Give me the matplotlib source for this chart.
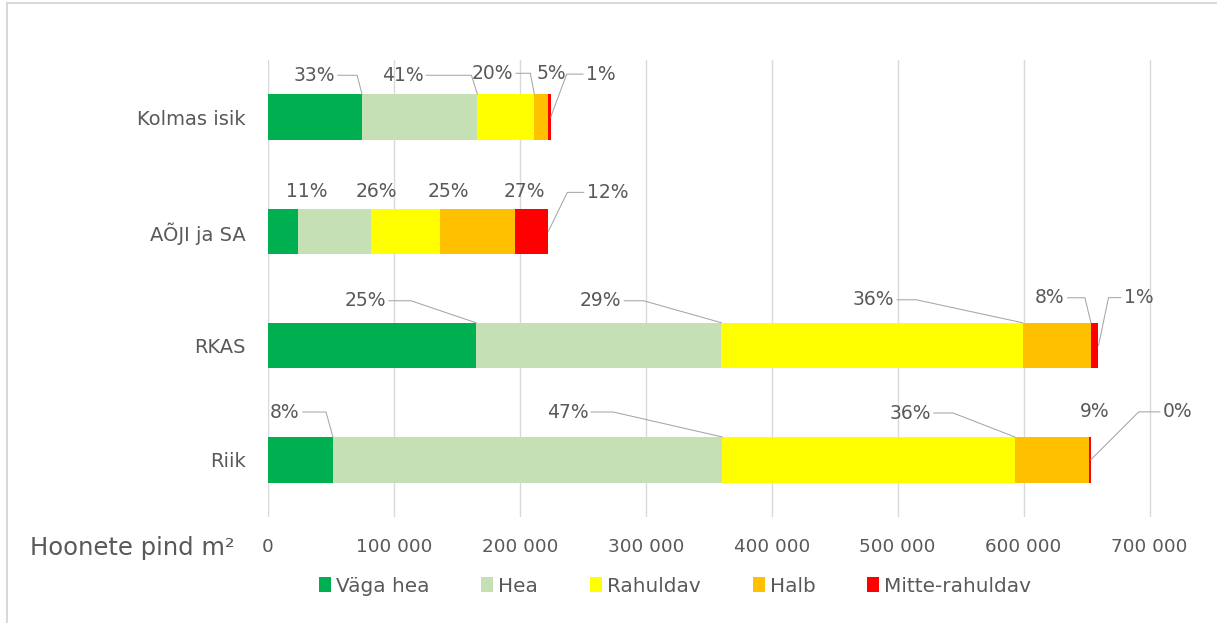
import math
import matplotlib
matplotlib.use('Agg')
import matplotlib.pyplot as plt
from matplotlib.lines import Line2D
from matplotlib.patches import Patch
from matplotlib.ticker import FuncFormatter

# andmed (m2), loetud pildilt
categories = ['Kolmas isik', 'AÕJI ja SA', 'RKAS', 'Riik']
vaga_hea = [74700, 24100, 165200, 51600]
hea = [91600, 57700, 194900, 309300]
rahuldav = [45200, 55100, 239200, 232300]
halb = [10900, 59300, 54200, 59000]
mitte_rahuldav = [2100, 26400, 6000, 1100]
series_names = ['Väga hea', 'Hea', 'Rahuldav', 'Halb', 'Mitte-rahuldav']
pct_labels = [
    ['33%', '41%', '20%', '5%', '1%'],
    ['11%', '26%', '25%', '27%', '12%'],
    ['25%', '29%', '36%', '8%', '1%'],
    ['8%', '47%', '36%', '9%', '0%'],
]
x_ticks = [0, 100000, 200000, 300000, 400000, 500000, 600000, 700000]

colors = ['#00B050', '#C5E0B4', '#FFFF00', '#FFC000', '#FF0000']
text_col = '#595959'
grid_col = '#D9D9D9'
bar_h = 0.4

# sildi asukoht pikslites: (dx, dy, kusk x, ankur)
label_pos = [
    [(-48, 19, -5, 'top'), (-75, 19, -6, 'top'), (-42, 21, -4, 'top'), (3, 21, None, 'top'), (50, 43, 16, 'mid')],
    [(8, 17, None, 'top'), (5, 17, None, 'top'), (8, 17, None, 'top'), (9, 17, None, 'top'), (59, 39, 19, 'mid')],
    [(-111, 22, -65, 'top'), (-121, 22, -78, 'top'), (-149, 23, -106, 'top'), (-41, 25, -6, 'top'), (40, 48, 10, 'mid')],
    [(-48, 25, -7, 'top'), (-155, 25, -109, 'top'), (-105, 24, -62, 'top'), (5, 26, None, 'top'), (87, 48, 48, 'mid')],
]

W, H = 1217, 623
x_max = 705000
px_per_unit = (1149.5 - 268) / 700000
fig = plt.figure(figsize=(W / 100, H / 100), dpi=100)
ax = fig.add_axes([268 / W, 1 - 517 / H, x_max * px_per_unit / W, (517 - 60) / H])

series = [vaga_hea, hea, rahuldav, halb, mitte_rahuldav]
ypos = list(range(len(categories)))
left = [0] * len(categories)
ends = []
for vals, col, name in zip(series, colors, series_names):
    ax.barh(ypos, vals, left=left, height=bar_h, color=col, edgecolor='none', label=name, zorder=3)
    left = [l + v for l, v in zip(left, vals)]
    ends.append(list(left))

for i in range(len(categories)):
    for j in range(len(series)):
        dx, dy, ex, anchor = label_pos[i][j]
        y = i - bar_h / 2 if anchor == 'top' else i
        x = ends[j][i]
        kw = dict(xy=(x, y), xytext=(dx, dy), textcoords='offset pixels',
                  ha='center', va='center', fontsize=13.5, color=text_col, zorder=5)
        if ex is not None:
            ang = math.degrees(math.atan2(dy, ex))
            kw['arrowprops'] = dict(arrowstyle='-', color='#A6A6A6', lw=0.75,
                                    shrinkA=0, shrinkB=0,
                                    connectionstyle=f'angle,angleA=0,angleB={ang:.1f},rad=0')
        ax.annotate(pct_labels[i][j], **kw)

ax.set_xlim(0, x_max)
ax.set_ylim(len(categories) - 0.5, -0.5)
ax.set_xticks(x_ticks)
ax.xaxis.set_major_formatter(FuncFormatter(lambda v, p: f'{int(v):,}'.replace(',', ' ')))
ax.set_yticks(ypos)
ax.set_yticklabels(categories)
ax.tick_params(axis='x', length=0, pad=15, labelsize=13.2, labelcolor=text_col)
ax.tick_params(axis='y', length=0, pad=16, labelsize=14, labelcolor=text_col)
ax.grid(axis='x', color=grid_col, lw=1, zorder=0)
for s in ax.spines.values():
    s.set_visible(False)

fig.text(30 / W, 1 - 548 / H, 'Hoonete pind m²', fontsize=17.5, color=text_col, va='center')

handles = [Patch(facecolor=c, edgecolor='none') for c in colors]
fig.legend(handles, series_names, loc='center', bbox_to_anchor=(675 / W, 1 - 586 / H),
           ncol=5, frameon=False, fontsize=14.4, handlelength=0.6, handleheight=0.8,
           handletextpad=0.25, columnspacing=2.6, labelcolor=text_col)

# diagrammi raam
fig.add_artist(Line2D([7 / W, 7 / W], [0, 1 - 3 / H], transform=fig.transFigure, color=grid_col, lw=1.5))
fig.add_artist(Line2D([7 / W, 1], [1 - 3 / H, 1 - 3 / H], transform=fig.transFigure, color=grid_col, lw=1.5))

fig.savefig('out.png', dpi=100)
